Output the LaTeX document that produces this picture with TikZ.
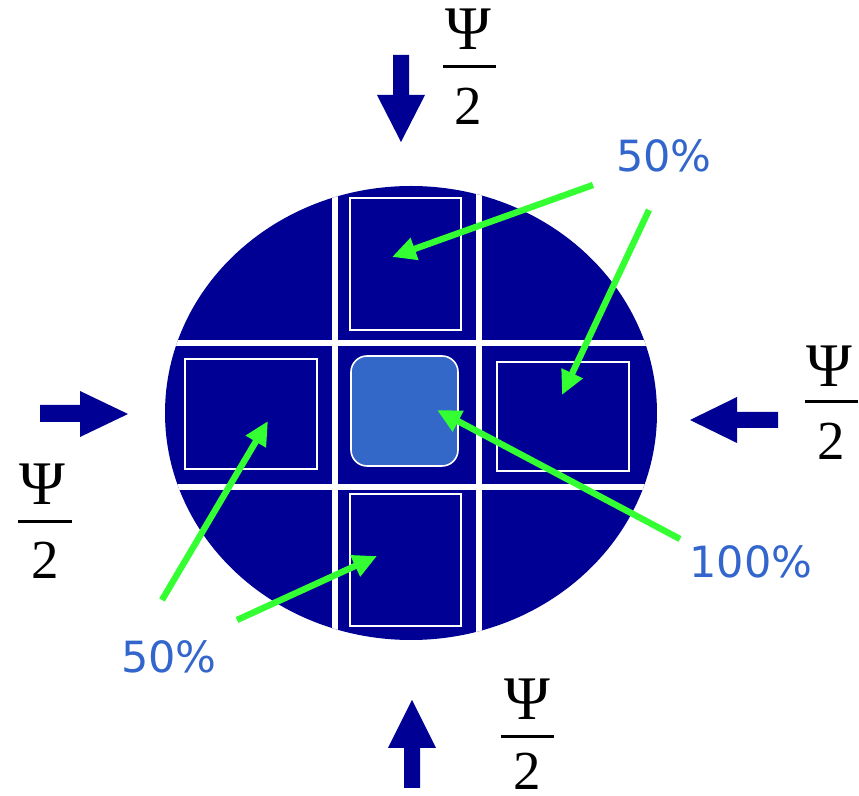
\documentclass[tikz,border=0pt]{standalone}
\usepackage{fontspec}
\setmainfont{Liberation Serif}
\newfontfamily\lblfont{DejaVu Sans}
\usetikzlibrary{arrows.meta}
\definecolor{navy}{RGB}{0,0,148}
\definecolor{cellblue}{RGB}{52,104,200}
\definecolor{txtblue}{RGB}{51,102,204}
\definecolor{lgreen}{RGB}{51,255,51}
\tikzset{
  lbl/.style={inner sep=0pt, text=txtblue, font=\lblfont\fontsize{21.5pt}{25pt}\selectfont},
  fracpart/.style={inner sep=0pt, font=\fontsize{27.5pt}{30pt}\selectfont},
  fracpsi/.style={inner sep=0pt, font=\fontsize{31pt}{36pt}\selectfont},
  fracbar/.style={line width=1.5pt},
  garrow/.style={draw=lgreen, line width=3.2pt, -{Triangle[length=12pt,width=11pt]}},
  gridline/.style={draw=white, line width=3.2pt},
  cellframe/.style={draw=white, line width=1pt},
  blockarrow/.style={fill=navy}
}
\begin{document}
\begin{tikzpicture}[x=0.5pt,y=-0.5pt]
\useasboundingbox (0,0) rectangle (859,796);
% disk
\fill[navy] (411,413) ellipse [x radius=123pt, y radius=113.5pt];
\begin{scope}
  \clip (411,413) ellipse [x radius=123pt, y radius=113.5pt];
  \draw[gridline] (335,150) -- (335,680);
  \draw[gridline] (479,150) -- (479,680);
  \draw[gridline] (150,343) -- (680,343);
  \draw[gridline] (150,487) -- (680,487);
\end{scope}
% cells
\draw[cellframe] (350,198) rectangle (461,330);
\draw[cellframe] (185,359) rectangle (317,469);
\draw[cellframe] (497,362) rectangle (629,471);
\draw[cellframe] (350,494) rectangle (461,626);
\draw[draw=white, line width=0.8pt, fill=cellblue, rounded corners=8pt] (351,356) rectangle (458,466);
% blue block arrows
\fill[blockarrow] (393,55) -- (409,55) -- (409,95) -- (425,95) -- (401,142) -- (377,95) -- (393,95) -- cycle;
\fill[blockarrow] (778,412) -- (778,428) -- (737,428) -- (737,443) -- (690,420) -- (737,397) -- (737,412) -- cycle;
\fill[blockarrow] (40,405) -- (80,405) -- (80,391) -- (128,414) -- (80,437) -- (80,422) -- (40,422) -- cycle;
\fill[blockarrow] (404,788) -- (404,748) -- (388,748) -- (412,700) -- (436,748) -- (420,748) -- (420,788) -- cycle;
% fractions
\node[fracpsi] (psiT) at (468,29) {Ψ};
\draw[fracbar] (443,67) -- (496,67);
\node[fracpart] (twoT) at (468,106) {2};
\node[fracpsi] (psiR) at (829,366) {Ψ};
\draw[fracbar] (805,402) -- (858,402);
\node[fracpart] (twoR) at (831,441) {2};
\node[fracpsi] (psiL) at (42,484) {Ψ};
\draw[fracbar] (18,522) -- (72,522);
\node[fracpart] (twoL) at (45,560) {2};
\node[fracpsi] (psiB) at (527,699) {Ψ};
\draw[fracbar] (501,737) -- (554,737);
\node[fracpart] (twoB) at (527,771) {2};
% labels
\node[lbl] (pT) at (664,156) {50\%};
\node[lbl] (pC) at (751,562) {100\%};
\node[lbl] (pB) at (169,657) {50\%};
% green arrows
\coordinate (s1) at (593,185); \coordinate (e1) at (392,257);
\coordinate (s2) at (649,210); \coordinate (e2) at (562,395);
\coordinate (s3) at (680,539); \coordinate (e3) at (437,410);
\coordinate (s4) at (162,600); \coordinate (e4) at (268,421);
\coordinate (s5) at (237,620); \coordinate (e5) at (377,556);
\draw[garrow] (s1) -- (e1);
\draw[garrow] (s2) -- (e2);
\draw[garrow] (s3) -- (e3);
\draw[garrow] (s4) -- (e4);
\draw[garrow] (s5) -- (e5);
\end{tikzpicture}
\end{document}
